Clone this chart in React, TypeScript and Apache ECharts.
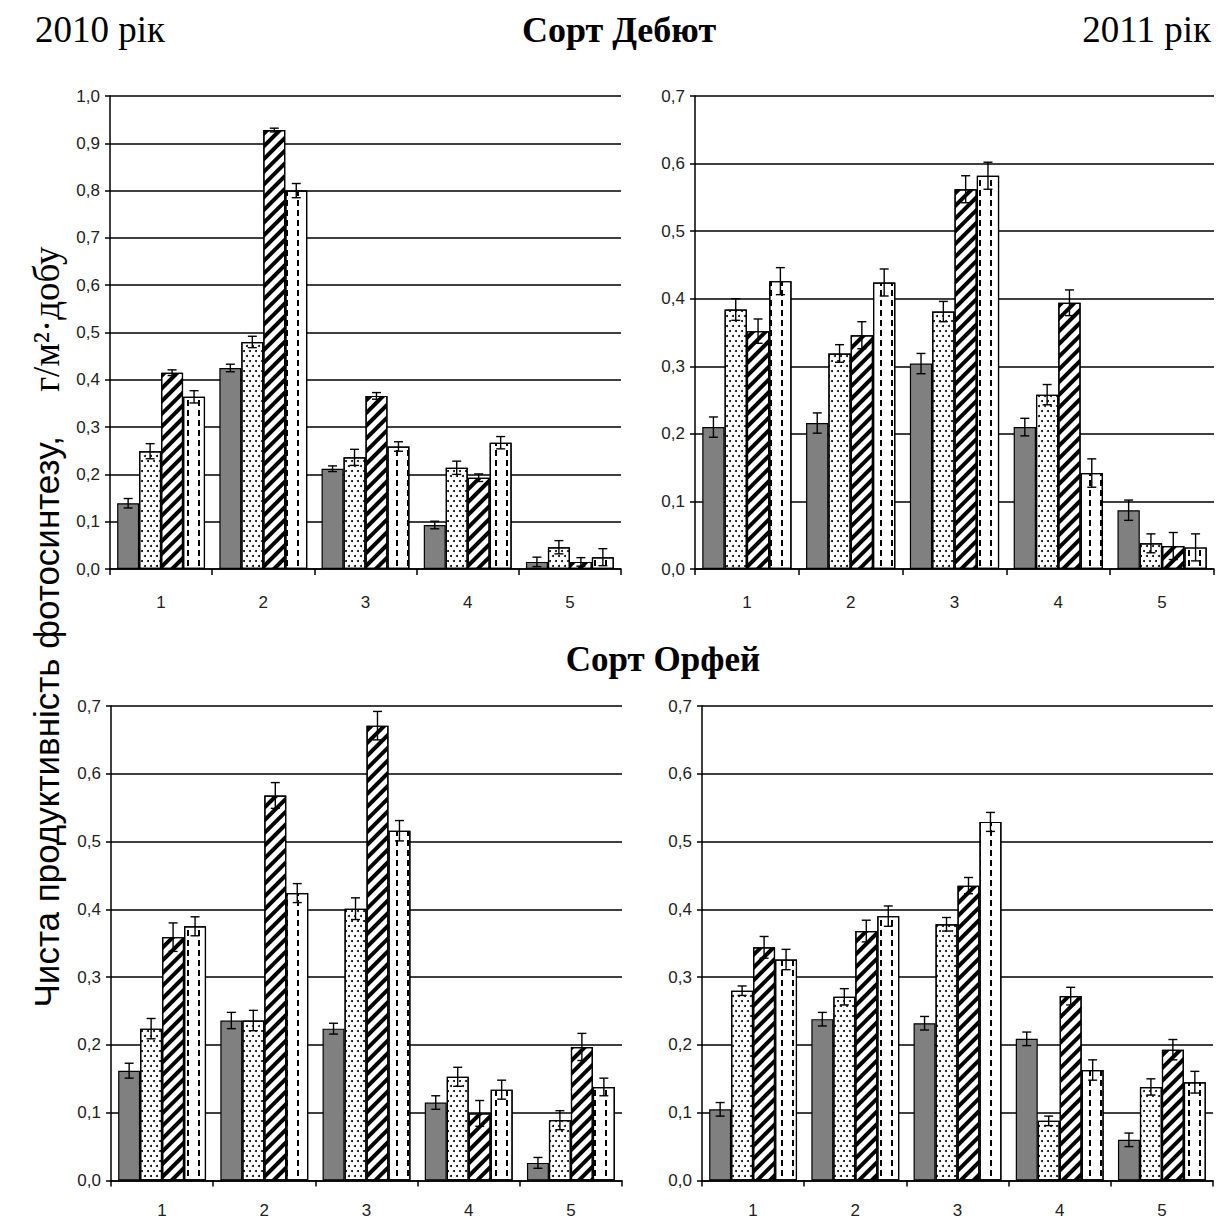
import React, { useEffect, useRef } from "react";
import * as echarts from "echarts";

// ---------- data ----------
const categories = ["1", "2", "3", "4", "5"];

// Panel: 2010, Сорт Дебют
const debut2010Gray = [0.139, 0.425, 0.212, 0.093, 0.015];
const debut2010GrayErr = [0.010, 0.008, 0.006, 0.008, 0.010];
const debut2010Dots = [0.249, 0.480, 0.236, 0.214, 0.046];
const debut2010DotsErr = [0.016, 0.012, 0.017, 0.014, 0.014];
const debut2010Hatch = [0.415, 0.928, 0.366, 0.193, 0.015];
const debut2010HatchErr = [0.006, 0.004, 0.007, 0.008, 0.009];
const debut2010Dash = [0.364, 0.800, 0.259, 0.267, 0.025];
const debut2010DashErr = [0.013, 0.015, 0.010, 0.013, 0.018];

// Panel: 2011, Сорт Дебют
const debut2011Gray = [0.210, 0.216, 0.304, 0.210, 0.087];
const debut2011GrayErr = [0.015, 0.015, 0.015, 0.013, 0.015];
const debut2011Dots = [0.384, 0.319, 0.381, 0.258, 0.038];
const debut2011DotsErr = [0.016, 0.013, 0.015, 0.015, 0.014];
const debut2011Hatch = [0.352, 0.346, 0.562, 0.394, 0.034];
const debut2011HatchErr = [0.018, 0.020, 0.020, 0.019, 0.020];
const debut2011Dash = [0.426, 0.424, 0.582, 0.142, 0.032];
const debut2011DashErr = [0.020, 0.020, 0.020, 0.021, 0.020];

// Panel: 2010, Сорт Орфей
const orfei2010Gray = [0.162, 0.236, 0.224, 0.115, 0.026];
const orfei2010GrayErr = [0.011, 0.012, 0.008, 0.010, 0.008];
const orfei2010Dots = [0.224, 0.236, 0.401, 0.153, 0.089];
const orfei2010DotsErr = [0.015, 0.015, 0.016, 0.014, 0.014];
const orfei2010Hatch = [0.359, 0.568, 0.671, 0.099, 0.197];
const orfei2010HatchErr = [0.021, 0.019, 0.021, 0.019, 0.020];
const orfei2010Dash = [0.375, 0.424, 0.516, 0.134, 0.138];
const orfei2010DashErr = [0.014, 0.014, 0.015, 0.014, 0.013];

// Panel: 2011, Сорт Орфей
const orfei2011Gray = [0.105, 0.238, 0.232, 0.209, 0.060];
const orfei2011GrayErr = [0.010, 0.010, 0.010, 0.010, 0.010];
const orfei2011Dots = [0.280, 0.271, 0.378, 0.088, 0.138];
const orfei2011DotsErr = [0.007, 0.012, 0.010, 0.007, 0.012];
const orfei2011Hatch = [0.344, 0.368, 0.435, 0.272, 0.193];
const orfei2011HatchErr = [0.016, 0.016, 0.012, 0.013, 0.015];
const orfei2011Dash = [0.326, 0.390, 0.529, 0.163, 0.145];
const orfei2011DashErr = [0.015, 0.015, 0.014, 0.015, 0.016];

const yMaxTop2010 = 1.0;
const yMaxOther = 0.7;

const titleLeft = "2010 рік";
const titleRight = "2011 рік";
const titleDebut = "Сорт Дебют";
const titleOrfei = "Сорт Орфей";
const yTitleMain = "Чиста продуктивність фотосинтезу,";
const yTitleUnit = "г/м²·добу";

// ---------- styling helpers ----------
const CAT_GAP = 0.14;

const styles = [
  { color: "#808080", borderColor: "#000", borderWidth: 1.2 },
  {
    color: "#ffffff",
    borderColor: "#000",
    borderWidth: 1.2,
    decal: {
      symbol: "circle",
      symbolSize: 1,
      color: "#000",
      backgroundColor: "#ffffff",
      dashArrayX: [
        [1.8, 3.2],
        [0, 2.5, 1.8, 0.7],
      ],
      dashArrayY: [1.8, 2.2],
      rotation: 0,
    },
  },
  {
    color: "#ffffff",
    borderColor: "#000",
    borderWidth: 1.2,
    decal: {
      symbol: "rect",
      symbolSize: 1,
      color: "#000",
      backgroundColor: "#ffffff",
      dashArrayX: [1, 0],
      dashArrayY: [3.2, 4.3],
      rotation: -Math.PI / 4,
    },
  },
  {
    color: "#ffffff",
    borderColor: "#000",
    borderWidth: 1.2,
    decal: {
      symbol: "rect",
      symbolSize: 1,
      color: "#000",
      backgroundColor: "#ffffff",
      dashArrayX: [1.5, 8.5],
      dashArrayY: [6, 4],
      rotation: 0,
    },
  },
];

type Panel = {
  left: number;
  top: number;
  width: number;
  height: number;
  max: number;
  labelMargin: number;
  values: number[][];
  errors: number[][];
};

const panels: Panel[] = [
  {
    left: 110, top: 96, width: 511, height: 473, max: yMaxTop2010, labelMargin: 25,
    values: [debut2010Gray, debut2010Dots, debut2010Hatch, debut2010Dash],
    errors: [debut2010GrayErr, debut2010DotsErr, debut2010HatchErr, debut2010DashErr],
  },
  {
    left: 695, top: 96, width: 519, height: 473, max: yMaxOther, labelMargin: 25,
    values: [debut2011Gray, debut2011Dots, debut2011Hatch, debut2011Dash],
    errors: [debut2011GrayErr, debut2011DotsErr, debut2011HatchErr, debut2011DashErr],
  },
  {
    left: 111, top: 706, width: 511, height: 474.5, max: yMaxOther, labelMargin: 21,
    values: [orfei2010Gray, orfei2010Dots, orfei2010Hatch, orfei2010Dash],
    errors: [orfei2010GrayErr, orfei2010DotsErr, orfei2010HatchErr, orfei2010DashErr],
  },
  {
    left: 702, top: 706, width: 511, height: 474.5, max: yMaxOther, labelMargin: 21,
    values: [orfei2011Gray, orfei2011Dots, orfei2011Hatch, orfei2011Dash],
    errors: [orfei2011GrayErr, orfei2011DotsErr, orfei2011HatchErr, orfei2011DashErr],
  },
];

function buildOption() {
  const grid: any[] = [];
  const xAxis: any[] = [];
  const yAxis: any[] = [];
  const series: any[] = [];
  const sans = "'Liberation Sans', Arial, sans-serif";

  panels.forEach((p, gi) => {
    grid.push({ left: p.left, top: p.top, width: p.width, height: p.height, containLabel: false });
    xAxis.push({
      type: "category",
      gridIndex: gi,
      data: categories,
      axisLine: { show: true, lineStyle: { color: "#000", width: 1.5 } },
      axisTick: { show: true, length: 6, lineStyle: { color: "#000", width: 1.5 }, alignWithLabel: false },
      axisLabel: { color: "#222", fontSize: 17, fontFamily: sans, margin: p.labelMargin },
      splitLine: { show: false },
    });
    yAxis.push({
      type: "value",
      gridIndex: gi,
      min: 0,
      max: p.max,
      interval: 0.1,
      axisLine: { show: true, lineStyle: { color: "#000", width: 1.5 } },
      axisTick: { show: true, length: 5, lineStyle: { color: "#000", width: 1.5 } },
      axisLabel: {
        color: "#222",
        fontSize: 17,
        fontFamily: sans,
        margin: 10,
        formatter: (v: number) => v.toFixed(1).replace(".", ","),
      },
      splitLine: { show: true, lineStyle: { color: "#000", width: 1.5 } },
    });

    p.values.forEach((vals, si) => {
      series.push({
        type: "bar",
        xAxisIndex: gi,
        yAxisIndex: gi,
        data: vals,
        barGap: "0%",
        barCategoryGap: CAT_GAP * 100 + "%",
        itemStyle: styles[si],
        emphasis: { disabled: true },
        z: 2,
      });
    });

    p.values.forEach((vals, si) => {
      const errs = p.errors[si];
      const data = vals.map((v, i) => [i, v - errs[i], v + errs[i]]);
      series.push({
        type: "custom",
        xAxisIndex: gi,
        yAxisIndex: gi,
        z: 10,
        silent: true,
        encode: { x: 0, y: [1, 2] },
        data,
        renderItem: (params: any, api: any) => {
          const idx = api.value(0);
          const lo = api.coord([idx, api.value(1)]);
          const hi = api.coord([idx, api.value(2)]);
          const band = api.size([1, 0])[0];
          const groupW = band * (1 - CAT_GAP);
          const bw = groupW / 4;
          const cx = lo[0] - groupW / 2 + bw * (si + 0.5);
          const cap = 4.5;
          const st = { stroke: "#000", lineWidth: 1.4 };
          return {
            type: "group",
            children: [
              { type: "line", shape: { x1: cx, y1: lo[1], x2: cx, y2: hi[1] }, style: st },
              { type: "line", shape: { x1: cx - cap, y1: lo[1], x2: cx + cap, y2: lo[1] }, style: st },
              { type: "line", shape: { x1: cx - cap, y1: hi[1], x2: cx + cap, y2: hi[1] }, style: st },
            ],
          };
        },
      });
    });
  });

  const serif = "'Liberation Serif', 'Times New Roman', serif";
  const graphic: any[] = [
    {
      type: "text", left: 35, top: 11,
      style: { text: titleLeft, font: `37px ${serif}`, fill: "#000" },
    },
    {
      type: "text", x: 619, y: 30,
      style: { text: titleDebut, font: `bold 36px ${serif}`, fill: "#000", align: "center", verticalAlign: "middle" },
    },
    {
      type: "text", right: 16, top: 11,
      style: { text: titleRight, font: `37px ${serif}`, fill: "#000" },
    },
    {
      type: "text", x: 663, y: 659,
      style: { text: titleOrfei, font: `bold 35px ${serif}`, fill: "#000", align: "center", verticalAlign: "middle" },
    },
    {
      type: "text", x: 46, y: 627, rotation: Math.PI / 2,
      style: {
        text: `{a|${yTitleMain}}{g|}{b|${yTitleUnit}}`,
        align: "center",
        verticalAlign: "middle",
        rich: {
          a: { fontFamily: sans, fontSize: 35, color: "#333" },
          g: { width: 44 },
          b: { fontFamily: serif, fontSize: 37, color: "#333" },
        },
      },
    },
  ];

  return {
    animation: false,
    backgroundColor: "#ffffff",
    grid,
    xAxis,
    yAxis,
    series,
    graphic,
  };
}

export default function App() {
  const ref = useRef<HTMLDivElement>(null);
  useEffect(() => {
    document.body.style.margin = "0";
    if (!ref.current) return;
    const chart = echarts.init(ref.current, undefined, { renderer: "svg" });
    chart.setOption(buildOption() as any);
    return () => chart.dispose();
  }, []);
  return <div ref={ref} style={{ width: 1227, height: 1222 }} />;
}
